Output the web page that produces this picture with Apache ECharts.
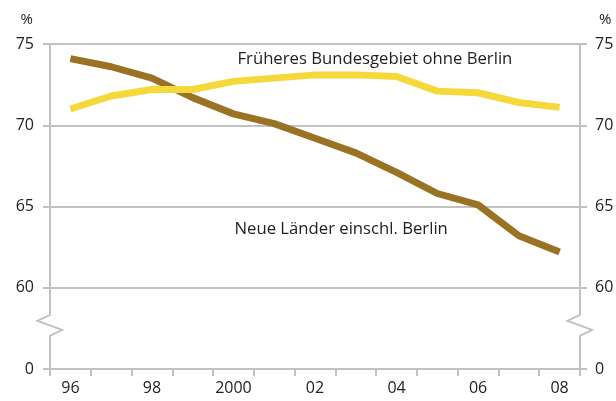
<!DOCTYPE html>
<html lang="de">
<head>
<meta charset="UTF-8">
<title>Erwerbsquote</title>
<script src="https://cdn.jsdelivr.net/npm/echarts@6/dist/echarts.min.js"></script>
<style>
  html, body { margin: 0; padding: 0; background: #fff; }
  #main { width: 616px; height: 401px; }
</style>
</head>
<body>
<div id="main"></div>
<script>
// Jahre (Achsenbeschriftung)
var years = ['96', '97', '98', '99', '2000', '01', '02', '03', '04', '05', '06', '07', '08'];
// Früheres Bundesgebiet ohne Berlin
var westData = [71.0, 71.8, 72.2, 72.2, 72.7, 72.9, 73.1, 73.1, 73.0, 72.1, 72.0, 71.4, 71.1];
// Neue Länder einschl. Berlin
var ostData = [74.1, 73.6, 72.9, 71.7, 70.7, 70.1, 69.2, 68.3, 67.1, 65.8, 65.1, 63.2, 62.2];
// y-Achse: 55 steht fuer die 0 unterhalb des Achsenbruchs
var yTicks = [55, 60, 65, 70, 75];

var gray = '#c2c2c2';
var font = 'Open Sans';

function yLabel(v) {
    return v === 55 ? '0' : String(v);
}

function makeYAxis(pos) {
    return {
        type: 'value',
        position: pos,
        min: yTicks[0],
        max: yTicks[yTicks.length - 1],
        interval: 5,
        name: '%',
        nameLocation: 'end',
        nameGap: 17,
        nameTextStyle: {
            color: '#222', fontFamily: font, fontSize: 15,
            align: pos === 'left' ? 'right' : 'left',
            padding: pos === 'left' ? [0, 17, 0, 0] : [0, 0, 0, 19]
        },
        axisLine: { show: false },
        axisTick: { show: true, length: 7, lineStyle: { color: gray, width: 2 } },
        axisLabel: { color: '#222', fontFamily: font, fontSize: 16, margin: pos === 'left' ? 16 : 15, formatter: yLabel },
        splitLine: { show: pos === 'left', lineStyle: { color: gray, width: 2 } }
    };
}

var myChart = echarts.init(document.getElementById('main'));

var option = {
    animation: false,
    grid: { left: 50, right: 36, top: 44, bottom: 32, containLabel: false, outerBoundsMode: 'none' },
    xAxis: {
        type: 'category',
        data: years,
        boundaryGap: true,
        axisLine: { lineStyle: { color: gray, width: 2 } },
        axisTick: { show: true, interval: 0, length: 7, lineStyle: { color: gray, width: 2 } },
        axisLabel: { interval: 1, color: '#222', fontFamily: font, fontSize: 16, margin: 11 },
        splitLine: { show: false }
    },
    yAxis: [makeYAxis('left'), makeYAxis('right')],
    series: [
        {
            name: 'Neue Länder einschl. Berlin',
            type: 'line',
            data: ostData,
            showSymbol: false,
            lineStyle: { color: '#9a7224', width: 7 },
            z: 2
        },
        {
            name: 'Früheres Bundesgebiet ohne Berlin',
            type: 'line',
            data: westData,
            showSymbol: false,
            lineStyle: { color: '#f5d93b', width: 7 },
            z: 3
        }
    ]
};
myChart.setOption(option);

// Achsenlinien mit Bruchzeichen und Serienbeschriftungen
var xt = function (i) { return myChart.convertToPixel({ xAxisIndex: 0 }, i); };
var yv = function (v) { return myChart.convertToPixel({ yAxisIndex: 0 }, v); };

var p75 = yv(75);
var p60 = yv(60);
var p55 = yv(55);
var step = xt(1) - xt(0);
var xl = xt(0) - step / 2;
var xr = xt(years.length - 1) + step / 2;
var mid = (p60 + p55) / 2;

function brokenAxis(x) {
    return {
        type: 'polyline',
        silent: true,
        z: 10,
        shape: {
            points: [
                [x, p75], [x, mid - 13.5], [x - 12.5, mid - 7.5],
                [x + 12, mid + 1.5], [x, mid + 7.5], [x, p55]
            ]
        },
        style: { stroke: gray, lineWidth: 2, fill: null }
    };
}

myChart.setOption({
    graphic: [
        brokenAxis(xl),
        brokenAxis(xr),
        {
            type: 'text', silent: true, z: 20,
            x: xt(4) + 4, y: yv(74.05),
            style: { text: 'Früheres Bundesgebiet ohne Berlin', fill: '#222', font: '16.7px "' + font + '"', textVerticalAlign: 'middle' }
        },
        {
            type: 'text', silent: true, z: 20,
            x: xt(4) + 1, y: yv(63.6),
            style: { text: 'Neue Länder einschl. Berlin', fill: '#222', font: '16.7px "' + font + '"', textVerticalAlign: 'middle' }
        }
    ]
});
</script>
</body>
</html>
